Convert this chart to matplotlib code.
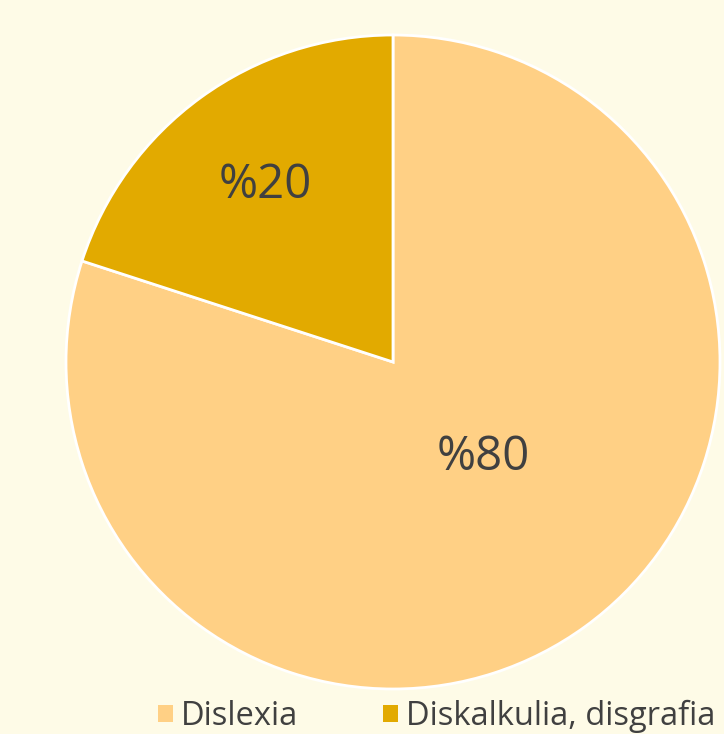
import matplotlib.pyplot as plt
from matplotlib.patches import Patch

labels = ["Dislexia", "Diskalkulia, disgrafia"]
values = [80, 20]
pct_text = ["%80", "%20"]
colors = ["#FFD085", "#E2AA00"]

bg = "#FEFBE7"
txt = "#404040"

fig = plt.figure(figsize=(7.24, 7.34), dpi=100, facecolor=bg)
ax = fig.add_axes([0, 0, 1, 1])
ax.set_facecolor(bg)

wedges, _ = ax.pie(values, colors=colors, startangle=90, counterclock=False,
                   center=(393, 372), radius=327, frame=True,
                   wedgeprops=dict(edgecolor="white", linewidth=2))
ax.set_xlim(0, 724)
ax.set_ylim(0, 734)
ax.set_aspect("equal")
ax.axis("off")

# etiketak
ax.text(483, 277, pct_text[0], ha="center", va="center", fontsize=34,
        color=txt, family="Open Sans")
ax.text(265, 549, pct_text[1], ha="center", va="center", fontsize=34,
        color=txt, family="Open Sans")

handles = [Patch(facecolor=c, edgecolor="none") for c in colors]
fig.legend(handles, labels, loc="center", bbox_to_anchor=(0.603, 0.024),
           ncol=2, frameon=False, labelcolor=txt,
           prop=dict(family="Open Sans", size=23.5),
           handlelength=0.46, handleheight=0.46, handletextpad=0.25,
           columnspacing=2.6)

fig.savefig("out.png", dpi=100, facecolor=bg)
